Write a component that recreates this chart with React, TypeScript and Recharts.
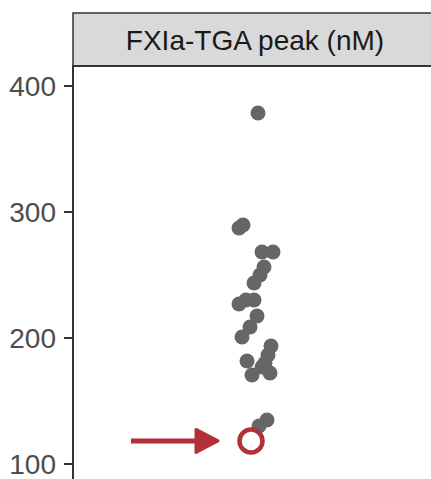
import React from 'react';
import { ComposedChart, Scatter, XAxis, YAxis, ReferenceLine, Customized } from 'recharts';

// ---- data ----
const peakJitter = [3, -16, -12, 7, 18, 9, 5, -1, -16, -9, -1, 2, -5, -13, 16, 13, 10, -8, -3, 15, 7, 12, 4];
const peakValues = [378.6, 287.3, 289.7, 268.3, 268.3, 256.3, 250, 243.7, 227, 230.2, 230.2, 217.5, 208.7, 200.8, 193.7, 186.5, 180.2, 181.7, 170.6, 172.2, 177, 134.9, 130.2];
const highlightJitter = [-4];
const highlightValues = [118.3];
const yTicks = [100, 200, 300, 400];
const stripLabel = 'FXIa-TGA peak (nM)';
const arrowTail = -124;
const arrowShaftEnd = -58;
const arrowTip = -37;

const points = peakValues.map((v, i) => ({ x: peakJitter[i], y: v }));
const highlight = highlightValues.map((v, i) => ({ x: highlightJitter[i], y: v }));
const arrowHead = [{ x: arrowTip, y: highlightValues[0] }];

// ---- layout ----
const W = 440;
const H = 500;
const M = { top: 66, right: 3, bottom: 10, left: 0 };
const YW = 73;
const STRIP_TOP = 13;
const RED = '#B2303A';
const FONT = '"Liberation Sans", Arial, Helvetica, sans-serif';

const Panel = () => {
  const x0 = M.left + YW;
  const pw = W - M.left - M.right - YW;
  const ph = H - M.top - M.bottom;
  return (
    <g>
      <rect x={x0} y={STRIP_TOP} width={pw} height={M.top - STRIP_TOP} fill="#D9D9D9" stroke="#333333" strokeWidth={1.5} />
      <text x={x0 + pw / 2} y={(STRIP_TOP + M.top) / 2} dy="0.36em" textAnchor="middle" fill="#1A1A1A" fontSize={28} fontFamily={FONT}>
        {stripLabel}
      </text>
      <rect x={x0} y={M.top} width={pw} height={ph} fill="none" stroke="#333333" strokeWidth={2} />
    </g>
  );
};

const Dot = (p: any) => <circle cx={p.cx} cy={p.cy} r={7.5} fill="#666666" />;
const Ring = (p: any) => <circle cx={p.cx} cy={p.cy} r={11.5} fill="#FFFFFF" stroke={RED} strokeWidth={4.5} />;
const Head = (p: any) => (
  <polygon
    points={`${p.cx},${p.cy} ${p.cx - 22},${p.cy - 11.5} ${p.cx - 22},${p.cy + 11.5}`}
    fill={RED}
    stroke={RED}
    strokeWidth={3}
    strokeLinejoin="round"
  />
);

export default function App() {
  return (
    <div style={{ position: 'fixed', left: 0, top: 0, width: 431, height: 479, overflow: 'hidden', background: '#fff' }}>
      <ComposedChart width={W} height={H} margin={M}>
        <XAxis type="number" dataKey="x" domain={[-182, 182]} hide allowDataOverflow />
        <YAxis
          type="number"
          dataKey="y"
          width={YW}
          domain={[79.37, 415.87]}
          ticks={yTicks}
          allowDataOverflow
          axisLine={false}
          tickSize={9}
          tickMargin={8}
          tickLine={{ stroke: '#333333', strokeWidth: 2 }}
          tick={{ fill: '#4D4D4D', fontSize: 28, fontFamily: FONT }}
        />
        <Customized component={<Panel />} />
        <ReferenceLine
          segment={[{ x: arrowTail, y: highlightValues[0] }, { x: arrowShaftEnd, y: highlightValues[0] }]}
          stroke={RED}
          strokeWidth={5}
        />
        <Scatter data={arrowHead} dataKey="y" shape={Head} isAnimationActive={false} />
        <Scatter data={points} dataKey="y" shape={Dot} isAnimationActive={false} />
        <Scatter data={highlight} dataKey="y" shape={Ring} isAnimationActive={false} />
      </ComposedChart>
    </div>
  );
}
